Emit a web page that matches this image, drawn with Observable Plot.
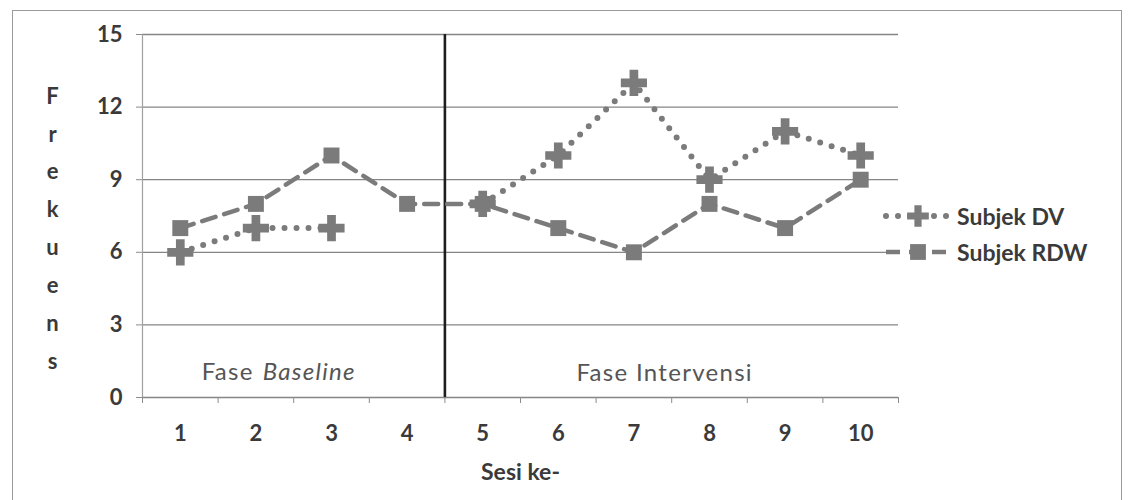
<!DOCTYPE html>
<html>
<head>
<meta charset="utf-8">
<script src="https://cdn.jsdelivr.net/npm/d3@7"></script>
<script src="https://cdn.jsdelivr.net/npm/@observablehq/plot@0.6"></script>
<style>
  html, body { margin: 0; padding: 0; background: #fff; }
  #wrap { position: relative; width: 1131px; height: 500px; overflow: hidden; font-family: Lato, "Open Sans", sans-serif; }
  #frame { position: absolute; left: 12px; top: 10px; width: 1110px; height: 520px; border: 1px solid #9a9a9a; box-sizing: border-box; }
  #legend { position: absolute; left: 882px; top: 198px; }
  .li { display: flex; align-items: center; height: 36px; color: #3a3a3a; font-weight: 700; font-size: 23px; }
  .li svg { margin-right: 5px; }
  .phase text { letter-spacing: 1.3px; }
</style>
</head>
<body>
<div id="wrap">
  <div id="frame"></div>
  <div id="chart"></div>
  <div id="legend"></div>
</div>
<script>
const sessions = [1, 2, 3, 4, 5, 6, 7, 8, 9, 10];
const dvValues = [6, 7, 7, null, 8, 10, 13, 9, 11, 10];
const rdwValues = [7, 8, 10, 8, 8, 7, 6, 8, 7, 9];
const yTicks = [0, 3, 6, 9, 12, 15];
const seriesNames = ["Subjek DV", "Subjek RDW"];
const yLabel = "Frekuens";
const xLabel = "Sesi ke-";
const phaseBaseline = [1, 4];
const phaseIntervensi = [5, 10];

const dvData = sessions.map((s, i) => ({session: s, value: dvValues[i]}));
const rdwData = sessions.map((s, i) => ({session: s, value: rdwValues[i]}));
const boundaries = sessions.map(s => s - 0.5).concat([sessions[sessions.length - 1] + 0.5]);
const phaseSplit = (phaseBaseline[1] + phaseIntervensi[0]) / 2;
const xMin = boundaries[0], xMax = boundaries[boundaries.length - 1];
const markerColor = "#7b7b7b";
const textColor = "#3a3a3a";

const chart = Plot.plot({
  width: 1131,
  height: 500,
  marginLeft: 142,
  marginRight: 233,
  marginTop: 34,
  marginBottom: 103,
  style: {fontFamily: "Lato, 'Open Sans', sans-serif", background: "transparent"},
  x: {domain: [xMin, xMax]},
  y: {domain: [0, 15]},
  marks: [
    // gridlines
    Plot.ruleY(yTicks, {x1: xMin, x2: xMax, stroke: "#858585", strokeWidth: 1.3}),
    Plot.ruleX([xMin], {y1: 0, y2: 15, stroke: "#a0a0a0", strokeWidth: 1.2}),
    // y axis
    Plot.axisY({ticks: yTicks, tickSize: 6, tickPadding: 14, stroke: "#8c8c8c", fontSize: 22, fontWeight: 700, fill: textColor, label: null}),
    // x axis boundary ticks
    Plot.axisX({ticks: boundaries, tickSize: 6, stroke: "#8c8c8c", text: null, label: null}),
    // x axis labels
    Plot.axisX({ticks: sessions, tickSize: 0, tickPadding: 28, fontSize: 22, fontWeight: 700, fill: textColor, label: null, tickFormat: d => String(d)}),
    // phase separator
    Plot.ruleX([phaseSplit], {y1: 0, y2: 15, stroke: "#1e1e1e", strokeWidth: 2.6}),
    // phase labels
    Plot.text(["Fase"], {x: [(phaseBaseline[0] + phaseBaseline[1]) / 2], y: [0], dy: -25, dx: -40, textAnchor: "end", fontSize: 24, fill: "#555", className: "phase"}),
    Plot.text(["Baseline"], {x: [(phaseBaseline[0] + phaseBaseline[1]) / 2], y: [0], dy: -25, dx: -31, textAnchor: "start", fontSize: 24, fontStyle: "italic", fill: "#555", className: "phase"}),
    Plot.text(["Fase Intervensi"], {x: [(phaseIntervensi[0] + phaseIntervensi[1]) / 2], y: [0], dy: -24, dx: -7, fontSize: 24, fill: "#555", className: "phase"}),
    // series lines
    Plot.line(rdwData, {x: "session", y: "value", stroke: markerColor, strokeWidth: 4.5, strokeDasharray: "14,9"}),
    Plot.line(dvData, {x: "session", y: "value", stroke: markerColor, strokeWidth: 6, strokeDasharray: "0,12", strokeLinecap: "round"}),
    // markers
    Plot.dot(rdwData, {x: "session", y: "value", symbol: "square", r: 9, fill: markerColor, stroke: null}),
    Plot.dot(dvData.filter(d => d.value != null), {x: "session", y: "value", symbol: "cross", r: 11, fill: markerColor, stroke: null}),
    // axis titles
    Plot.text([yLabel.split("").join("\n")], {frameAnchor: "left", dx: -90, dy: 8, lineHeight: 1.72, fontSize: 22, fontWeight: 700, fill: textColor, textAnchor: "middle"}),
    Plot.text([xLabel], {frameAnchor: "bottom", dy: 82, fontSize: 23, fontWeight: 700, fill: textColor})
  ]
});
document.getElementById("chart").appendChild(chart);

// legend
const legend = document.getElementById("legend");
const styles = [
  {dash: "0,12", width: 6, cap: "round", marker: "cross"},
  {dash: "14,9", width: 4.5, cap: "butt", marker: "square"}
];
seriesNames.forEach((name, i) => {
  const st = styles[i];
  const div = document.createElement("div");
  div.className = "li";
  const svg = d3.create("svg").attr("width", 70).attr("height", 30);
  svg.append("line").attr("x1", 4).attr("x2", 66).attr("y1", 15).attr("y2", 15)
    .attr("stroke", markerColor).attr("stroke-width", st.width)
    .attr("stroke-dasharray", st.dash).attr("stroke-linecap", st.cap);
  const sym = st.marker === "cross" ? d3.symbolCross : d3.symbolSquare;
  const size = st.marker === "cross" ? 260 : 250;
  svg.append("path").attr("transform", "translate(36,15)").attr("d", d3.symbol(sym, size)()).attr("fill", markerColor);
  div.appendChild(svg.node());
  const span = document.createElement("span");
  span.textContent = name;
  div.appendChild(span);
  legend.appendChild(div);
});
</script>
</body>
</html>
